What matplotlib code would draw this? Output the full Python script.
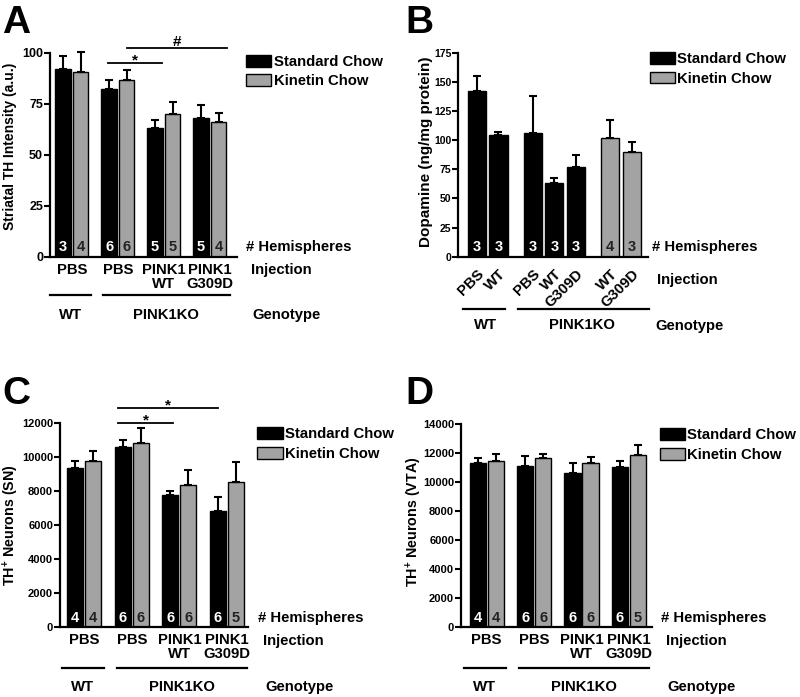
import matplotlib
matplotlib.use("Agg")
import numpy as np
import matplotlib.pyplot as plt
from matplotlib.patches import Patch

plt.rcParams["font.family"] = ["Liberation Sans", "DejaVu Sans"]
plt.rcParams["font.weight"] = "bold"
plt.rcParams["mathtext.fontset"] = "custom"
plt.rcParams["mathtext.rm"] = "Liberation Sans:bold"
plt.rcParams["mathtext.bf"] = "Liberation Sans:bold"

GREY = "#a3a3a3"

# ---- data ----
injections = ["PBS", "PBS", "PINK1\nWT", "PINK1\nG309D"]
legend_labels = ["Standard Chow", "Kinetin Chow"]

# A: striatal TH intensity
a_std = [92.2, 82.2, 63.2, 67.8]
a_std_err = [6.3, 4.4, 3.7, 6.6]
a_kin = [90.7, 86.6, 69.8, 66.0]
a_kin_err = [9.5, 4.9, 6.2, 4.4]
a_n_std = [3, 6, 5, 5]
a_n_kin = [4, 6, 5, 4]

# B: dopamine
b_labels = ["PBS", "WT", "PBS", "WT", "G309D", "WT", "G309D"]
b_vals = [142.4, 104.5, 106.0, 63.5, 76.8, 102.0, 89.5]
b_err = [13.0, 2.3, 31.5, 3.6, 10.6, 15.0, 9.2]
b_kinetin = [False, False, False, False, False, True, True]
b_n = [3, 3, 3, 3, 3, 4, 3]
b_groups = [2, 3, 2]

# C: TH+ neurons SN
c_std = [9390, 10620, 7770, 6860]
c_std_err = [410, 380, 250, 830]
c_kin = [9780, 10840, 8370, 8570]
c_kin_err = [610, 900, 900, 1170]
c_n_std = [4, 6, 6, 6]
c_n_kin = [4, 6, 6, 5]

# D: TH+ neurons VTA
d_std = [11310, 11120, 10640, 11080]
d_std_err = [390, 670, 710, 370]
d_kin = [11470, 11650, 11330, 11860]
d_kin_err = [500, 300, 390, 710]
d_n_std = [4, 6, 6, 6]
d_n_kin = [4, 6, 6, 5]

fig = plt.figure(figsize=(8, 6.97), dpi=100)


def style_axis(ax, ymax, yticks, ticksize):
    ax.spines["top"].set_visible(False)
    ax.spines["right"].set_visible(False)
    ax.spines["left"].set_linewidth(1.6)
    ax.spines["bottom"].set_linewidth(1.6)
    ax.set_ylim(0, ymax)
    ax.set_yticks(yticks)
    ax.tick_params(axis="y", width=1.5, length=4, labelsize=ticksize, pad=1)
    ax.tick_params(axis="x", length=0, labelbottom=False)


def add_legend(ax, x, y):
    handles = [Patch(facecolor="black", edgecolor="black", linewidth=1.0),
               Patch(facecolor=GREY, edgecolor="black", linewidth=1.0)]
    ax.legend(handles, legend_labels, loc="upper left", bbox_to_anchor=(x, y),
              frameon=False, fontsize=10.7, handlelength=1.7, handleheight=0.85,
              handletextpad=0.15, labelspacing=0.36, borderpad=0,
              borderaxespad=0)


def grouped_panel(rect, std, std_err, kin, kin_err, n_std, n_kin, xlim, ymax,
                  yticks, ylabel, ylabel_pos, ylabel_size, ticksize, legend_xy,
                  side_x, rows_y):
    ax = fig.add_axes(rect)
    x = np.arange(len(std))
    w, off = 0.34, 0.19
    ekw = dict(elinewidth=1.5, capthick=1.5, ecolor="black", clip_on=False)
    zeros = np.zeros(len(std))
    ax.bar(x - off, std, w, color="black", edgecolor="black", linewidth=1.0,
           yerr=[zeros, std_err], capsize=3.2, error_kw=ekw)
    ax.bar(x + off, kin, w, color=GREY, edgecolor="black", linewidth=1.0,
           yerr=[zeros, kin_err], capsize=3.2, error_kw=ekw)
    ax.set_xlim(*xlim)
    style_axis(ax, ymax, yticks, ticksize)
    tr = ax.get_xaxis_transform()
    for i in range(len(std)):
        ax.text(x[i] - off, 0.047, str(n_std[i]), transform=tr, ha="center",
                va="center", color="white", fontsize=10.5)
        ax.text(x[i] + off, 0.047, str(n_kin[i]), transform=tr, ha="center",
                va="center", color="#222222", fontsize=10.5)
        ax.text(x[i], rows_y[0], injections[i], transform=tr, ha="center",
                va="top", fontsize=10.7, linespacing=1.0)
    ax.text(side_x[0], 0.047, "# Hemispheres", transform=ax.transAxes,
            ha="left", va="center", fontsize=10.7)
    ax.text(side_x[1], rows_y[1], "Injection", transform=ax.transAxes,
            ha="left", va="center", fontsize=10.7)
    ax.text(side_x[2], rows_y[3], "Genotype", transform=ax.transAxes,
            ha="left", va="center", fontsize=10.7)
    # genotype bars
    ax.plot([-0.47, 0.41], [rows_y[2]] * 2, transform=tr, color="black",
            lw=1.6, clip_on=False)
    ax.plot([0.68, 3.43], [rows_y[2]] * 2, transform=tr, color="black",
            lw=1.6, clip_on=False)
    ax.text(-0.04, rows_y[3], "WT", transform=tr, ha="center", va="center",
            fontsize=10.7)
    ax.text(2.05, rows_y[3], "PINK1KO", transform=tr, ha="center",
            va="center", fontsize=10.7)
    ax.text(ylabel_pos[0], ylabel_pos[1], ylabel, transform=ax.transAxes,
            rotation=90, ha="center", va="center", fontsize=ylabel_size)
    add_legend(ax, *legend_xy)
    return ax


def sig_line(ax, x0, x1, y, mark):
    ax.plot([x0, x1], [y, y], color="black", lw=1.3, clip_on=False)
    dy = -1.5 if mark == "*" else 1.5
    ax.annotate(mark, ((x0 + x1) / 2, y), xytext=(0, dy),
                textcoords="offset points", ha="center", va="baseline",
                fontsize=11, annotation_clip=False)


# ---- A ----
axA = grouped_panel([0.0625, 0.6317, 0.2334, 0.2927], a_std, a_std_err, a_kin,
                    a_kin_err, a_n_std, a_n_kin, (-0.475, 3.585), 100,
                    [0, 25, 50, 75, 100], "Striatal TH Intensity (a.u.)",
                    (-0.214, 0.54), 10, 9, (1.05, 0.99), (1.05, 1.077, 1.082),
                    (-0.03, -0.066, -0.188, -0.286))
sig_line(axA, 0.79, 1.96, 95.1, "*")
sig_line(axA, 1.2, 3.37, 102.1, "#")

# ---- B ----
axB = fig.add_axes([0.5729, 0.6317, 0.2371, 0.2927])
pos = []
start = 0.0
for g in b_groups:
    pos.extend(start + np.arange(g))
    start = pos[-1] + 1.6
pos = np.array(pos)
colors = [GREY if k else "black" for k in b_kinetin]
axB.bar(pos, b_vals, 0.85, color=colors, edgecolor="black", linewidth=1.0,
        yerr=[np.zeros(len(b_vals)), b_err], capsize=3.2,
        error_kw=dict(elinewidth=1.5, capthick=1.5, ecolor="black"))
axB.set_xlim(-0.86, 7.95)
style_axis(axB, 175, [0, 25, 50, 75, 100, 125, 150, 175], 7.5)
trB = axB.get_xaxis_transform()
for p, n, k, lab in zip(pos, b_n, b_kinetin, b_labels):
    axB.text(p, 0.046, str(n), transform=trB, ha="center", va="center",
             color="#222222" if k else "white", fontsize=10.5)
    axB.text(p + 0.45, -0.05, lab, transform=trB, ha="right", va="top",
             rotation=45, fontsize=10.7)
axB.text(1.02, 0.046, "# Hemispheres", transform=axB.transAxes, ha="left",
         va="center", fontsize=10.7)
axB.text(1.047, -0.114, "Injection", transform=axB.transAxes, ha="left",
         va="center", fontsize=10.7)
axB.text(1.037, -0.34, "Genotype", transform=axB.transAxes, ha="left",
         va="center", fontsize=10.7)
axB.plot([-0.65, 1.32], [-0.257] * 2, transform=trB, color="black", lw=1.6,
         clip_on=False)
axB.plot([1.89, 7.98], [-0.257] * 2, transform=trB, color="black", lw=1.6,
         clip_on=False)
axB.text(0.39, -0.336, "WT", transform=trB, ha="center", va="center",
         fontsize=10.7)
axB.text(4.88, -0.336, "PINK1KO", transform=trB, ha="center", va="center",
         fontsize=10.7)
axB.text(-0.168, 0.513, "Dopamine (ng/mg protein)", transform=axB.transAxes,
         rotation=90, ha="center", va="center", fontsize=11)
add_legend(axB, 1.01, 1.003)

# ---- C ----
axC = grouped_panel([0.075, 0.1, 0.2354, 0.2927], c_std, c_std_err, c_kin,
                    c_kin_err, c_n_std, c_n_kin, (-0.508, 3.45), 12000,
                    np.arange(0, 12001, 2000), r"TH$^{+}$ Neurons (SN)",
                    (-0.262, 0.5), 10.3, 8, (1.048, 0.98), (1.053, 1.08, 1.088),
                    (-0.03, -0.067, -0.198, -0.291))
sig_line(axC, 0.72, 1.86, 12035, "*")
sig_line(axC, 0.72, 2.82, 12917, "*")

# ---- D ----
axD = grouped_panel([0.5763, 0.1, 0.2384, 0.2912], d_std, d_std_err, d_kin,
                    d_kin_err, d_n_std, d_n_kin, (-0.54, 3.48), 14000,
                    np.arange(0, 14001, 2000), r"TH$^{+}$ Neurons (VTA)",
                    (-0.25, 0.52), 10.3, 8, (1.043, 0.98), (1.049, 1.073, 1.084),
                    (-0.03, -0.067, -0.199, -0.293))

# panel letters
for lx, ly, letter in [(0.003, 0.953, "A"), (0.507, 0.953, "B"),
                       (0.003, 0.421, "C"), (0.507, 0.421, "D")]:
    fig.text(lx, ly, letter, fontsize=28, fontweight="bold", va="baseline")

fig.savefig("out.png", dpi=100)
